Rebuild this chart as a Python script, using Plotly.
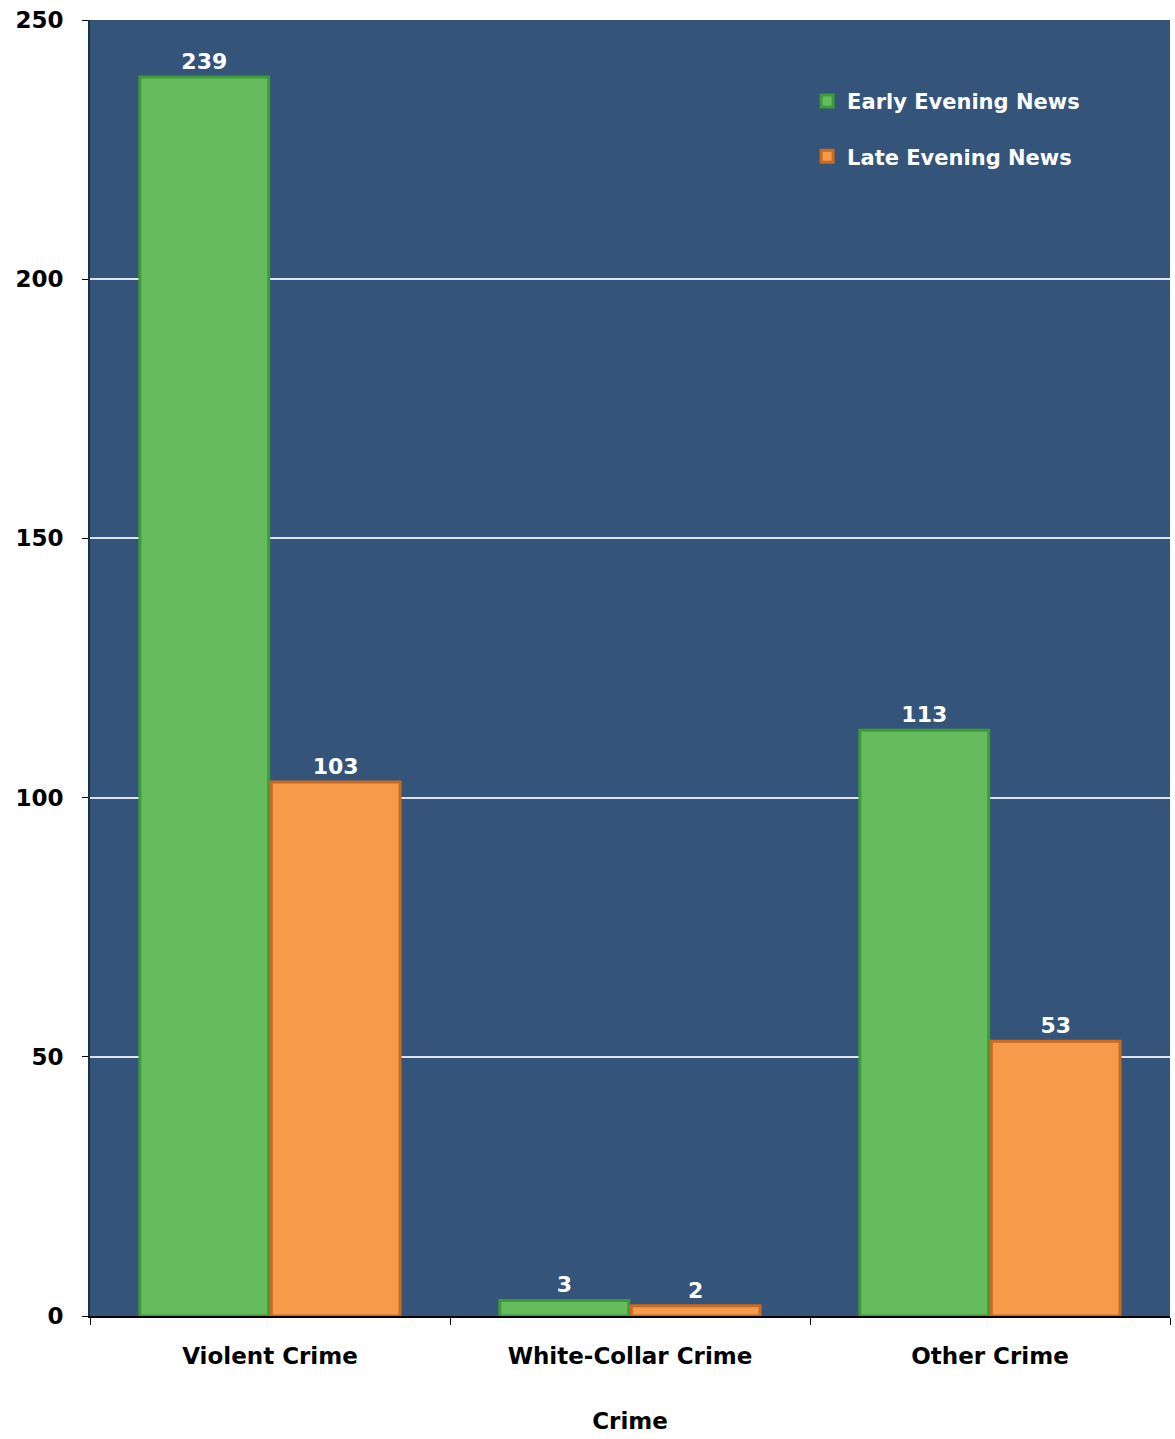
import plotly.graph_objects as go

categories = ["Violent Crime", "White-Collar Crime", "Other Crime"]
early_evening = [239, 3, 113]
late_evening = [103, 2, 53]
y_ticks = [0, 50, 100, 150, 200, 250]

FONT = "DejaVu Sans"

fig = go.Figure()
fig.add_trace(go.Bar(
    name="Early Evening News", x=categories, y=early_evening,
    legendgroup="early",
    marker=dict(color="#66BC5C", line=dict(color="#3F9A3A", width=3)),
    text=[str(v) for v in early_evening], textposition="outside",
    textfont=dict(family=FONT, size=22, color="white", weight="bold"),
    cliponaxis=False,
))
fig.add_trace(go.Bar(
    name="Late Evening News", x=categories, y=late_evening,
    legendgroup="late",
    marker=dict(color="#F59B4A", line=dict(color="#C86A22", width=3)),
    text=[str(v) for v in late_evening], textposition="outside",
    textfont=dict(family=FONT, size=22, color="white", weight="bold"),
    cliponaxis=False,
))

fig.update_layout(
    width=1175, height=1439,
    margin=dict(l=90, r=5, t=20, b=123),
    paper_bgcolor="white",
    plot_bgcolor="#34547A",
    barmode="group",
    bargap=0.27,
    bargroupgap=0.02,
    showlegend=True,
    legend=dict(
        x=0.664, y=0.953, xanchor="left", yanchor="top",
        bgcolor="rgba(0,0,0,0)",
        traceorder="grouped", tracegroupgap=25,
        font=dict(family=FONT, size=21, color="white", weight="bold"),
        itemwidth=30,
    ),
    font=dict(family=FONT, color="black"),
)
fig.update_xaxes(
    type="category",
    tickson="boundaries", ticks="outside", ticklen=7, tickcolor="black",
    showline=True, linecolor="black", linewidth=2,
    showgrid=False,
    ticklabelstandoff=18,
    tickfont=dict(family=FONT, size=23, color="black", weight="bold"),
    title=dict(text="Crime", standoff=45,
               font=dict(family=FONT, size=23, color="black", weight="bold")),
)
fig.update_yaxes(
    range=[0, 250], tickvals=y_ticks,
    ticks="outside", ticklen=6, tickcolor="black",
    showline=True, linecolor="#1E2E44", linewidth=2,
    showgrid=True, gridcolor="#DDE3EA", gridwidth=2,
    zeroline=False,
    ticklabelstandoff=14,
    tickfont=dict(family=FONT, size=23, color="black", weight="bold"),
)

fig.write_html("out.html")
